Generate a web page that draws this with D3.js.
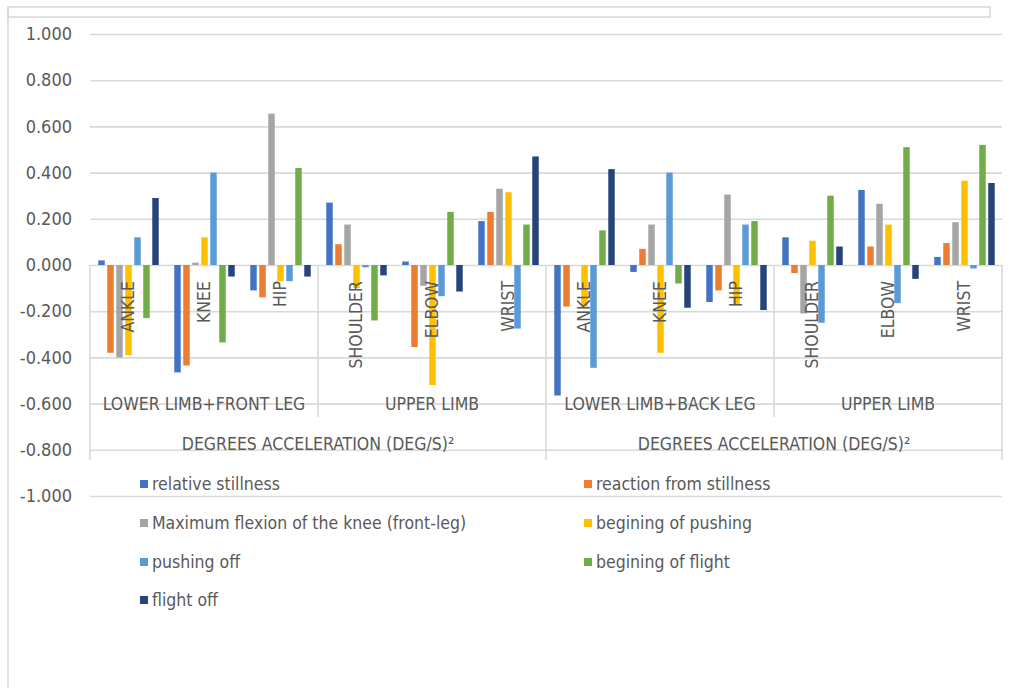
<!DOCTYPE html>
<html>
<head>
<meta charset="utf-8">
<script src="https://cdn.jsdelivr.net/npm/d3@7"></script>
<style>
  html, body { margin: 0; padding: 0; background: #ffffff; }
  svg { display: block; }
  text { font-family: "Liberation Sans Narrow", "DejaVu Sans Condensed", Lato, sans-serif; fill: #595959; }
</style>
</head>
<body>
<svg id="chart" width="1015" height="688"></svg>
<script>
// Joint categories (level 1 of the category axis)
const categories = ["ANKLE", "KNEE", "HIP", "SHOULDER", "ELBOW", "WRIST",
                    "ANKLE", "KNEE", "HIP", "SHOULDER", "ELBOW", "WRIST"];
// Limb groups (level 2), three joints each
const limbGroups = ["LOWER LIMB+FRONT LEG", "UPPER LIMB", "LOWER LIMB+BACK LEG", "UPPER LIMB"];
// Measure groups (level 3), six joints each
const measureGroups = ["DEGREES ACCELERATION (DEG/S)²", "DEGREES ACCELERATION (DEG/S)²"];

// Phases of the movement
const seriesNames = [
  "relative stillness",
  "reaction from stillness",
  "Maximum flexion of the knee (front-leg)",
  "begining of pushing",
  "pushing off",
  "begining of flight",
  "flight off"
];
const seriesColors = ["#4472C4", "#ED7D31", "#A5A5A5", "#FFC000", "#5B9BD5", "#70AD47", "#264478"];

// Values per phase, one per joint category
const relativeStillness = [0.020, -0.465, -0.110, 0.270, 0.015, 0.190, -0.565, -0.030, -0.160, 0.120, 0.325, 0.035];
const reactionFromStillness = [-0.380, -0.435, -0.140, 0.090, -0.355, 0.230, -0.180, 0.070, -0.110, -0.035, 0.080, 0.095];
const maxKneeFlexion = [-0.400, 0.010, 0.655, 0.175, -0.090, 0.330, 0.000, 0.175, 0.305, -0.210, 0.265, 0.185];
const beginingOfPushing = [-0.390, 0.120, -0.070, -0.100, -0.520, 0.315, -0.180, -0.380, -0.175, 0.105, 0.175, 0.365];
const pushingOff = [0.120, 0.400, -0.070, -0.010, -0.135, -0.275, -0.445, 0.400, 0.175, -0.250, -0.165, -0.015];
const beginingOfFlight = [-0.230, -0.335, 0.420, -0.240, 0.230, 0.175, 0.150, -0.080, 0.190, 0.300, 0.510, 0.520];
const flightOff = [0.290, -0.050, -0.050, -0.045, -0.115, 0.470, 0.415, -0.185, -0.195, 0.080, -0.060, 0.355];

const seriesValues = [relativeStillness, reactionFromStillness, maxKneeFlexion,
                      beginingOfPushing, pushingOff, beginingOfFlight, flightOff];

// Value-axis ticks
const yTicks = [1, 0.8, 0.6, 0.4, 0.2, 0, -0.2, -0.4, -0.6, -0.8, -1];

const svg = d3.select("#chart");
const plot = { left: 90, right: 1002, top: 34, bottom: 496 };
const fontSize = 17.5;
const tickFontSize = 18;
const gridColor = "#d9d9d9";

// Outer frame of the chart object
svg.append("rect").attr("x", 8).attr("y", 7).attr("width", 982).attr("height", 10)
  .attr("fill", "none").attr("stroke", "#d6d6d6").attr("stroke-width", 1.5);
svg.append("line").attr("x1", 8).attr("x2", 8).attr("y1", 7).attr("y2", 688)
  .attr("stroke", "#d6d6d6").attr("stroke-width", 1.5);

const y = d3.scaleLinear().domain([-1, 1]).range([plot.bottom, plot.top]);
const x0 = d3.scaleBand().domain(d3.range(categories.length)).range([plot.left, plot.right]);
const x1 = d3.scaleBand().domain(d3.range(seriesNames.length))
  .range([7, 70]).paddingInner(0.28).paddingOuter(0.14);

// Gridlines and value labels
const yAxis = d3.axisLeft(y)
  .tickValues(yTicks)
  .tickSize(-(plot.right - plot.left))
  .tickPadding(18)
  .tickFormat(d => d.toFixed(3));
const gy = svg.append("g").attr("transform", `translate(${plot.left},0)`).call(yAxis);
gy.select(".domain").remove();
gy.selectAll(".tick line").attr("stroke", gridColor).attr("stroke-width", 1.6);
gy.selectAll(".tick text").attr("font-size", tickFontSize).attr("fill", "#595959")
  .style("font-family", "\"Liberation Sans Narrow\", \"DejaVu Sans Condensed\", Lato, sans-serif");

// Bars
const groups = svg.append("g").selectAll("g")
  .data(categories.map((c, i) => i))
  .join("g")
  .attr("transform", i => `translate(${x0(i)},0)`);

groups.selectAll("rect")
  .data(i => seriesValues.map((vals, s) => ({ s, v: vals[i] })))
  .join("rect")
  .attr("x", d => x1(d.s))
  .attr("width", x1.bandwidth())
  .attr("y", d => y(Math.max(0, d.v)))
  .attr("height", d => Math.abs(y(d.v) - y(0)))
  .attr("fill", d => seriesColors[d.s]);

// Multi-level category axis
const axisG = svg.append("g");
const zeroY = y(0);
// Level 1 joint labels, rotated
axisG.selectAll("text.joint")
  .data(categories)
  .join("text")
  .attr("class", "joint")
  .attr("transform", (d, i) => `translate(${x0(i) + x0.bandwidth() / 2},${zeroY + 16}) rotate(-90)`)
  .attr("dy", "0.35em")
  .attr("text-anchor", "end")
  .attr("font-size", fontSize)
  .text(d => d);

// Level 2 limb group labels
const limbSpan = categories.length / limbGroups.length;
axisG.selectAll("text.limb")
  .data(limbGroups)
  .join("text")
  .attr("class", "limb")
  .attr("x", (d, i) => (x0(i * limbSpan) + x0((i + 1) * limbSpan - 1) + x0.bandwidth()) / 2)
  .attr("y", 410)
  .attr("text-anchor", "middle")
  .attr("font-size", fontSize)
  .text(d => d);

// Level 3 measure labels
const measureSpan = categories.length / measureGroups.length;
axisG.selectAll("text.measure")
  .data(measureGroups)
  .join("text")
  .attr("class", "measure")
  .attr("x", (d, i) => (x0(i * measureSpan) + x0((i + 1) * measureSpan - 1) + x0.bandwidth()) / 2)
  .attr("y", 450)
  .attr("text-anchor", "middle")
  .attr("font-size", fontSize)
  .text(d => d);

// Divider lines between groups
const dividers = [];
for (let i = 0; i <= limbGroups.length; i++) {
  const idx = i * limbSpan;
  const xPos = idx < categories.length ? x0(idx) : plot.right;
  const major = idx % measureSpan === 0;
  dividers.push({ x: xPos, y2: major ? 460 : 417 });
}
axisG.selectAll("line.div")
  .data(dividers)
  .join("line")
  .attr("class", "div")
  .attr("x1", d => d.x).attr("x2", d => d.x)
  .attr("y1", zeroY).attr("y2", d => d.y2)
  .attr("stroke", gridColor).attr("stroke-width", 1.6);

// Legend in two columns
const legend = svg.append("g");
const legendCols = [140, 584];
const legendRows = [484, 523, 562, 600];
const items = legend.selectAll("g")
  .data(seriesNames)
  .join("g")
  .attr("transform", (d, i) => `translate(${legendCols[i % 2]},${legendRows[Math.floor(i / 2)]})`);
items.append("rect")
  .attr("x", 0).attr("y", -4).attr("width", 8).attr("height", 8)
  .attr("fill", (d, i) => seriesColors[i]);
items.append("text")
  .attr("x", 12).attr("dy", "0.35em")
  .attr("font-size", fontSize)
  .text(d => d);
</script>
</body>
</html>
